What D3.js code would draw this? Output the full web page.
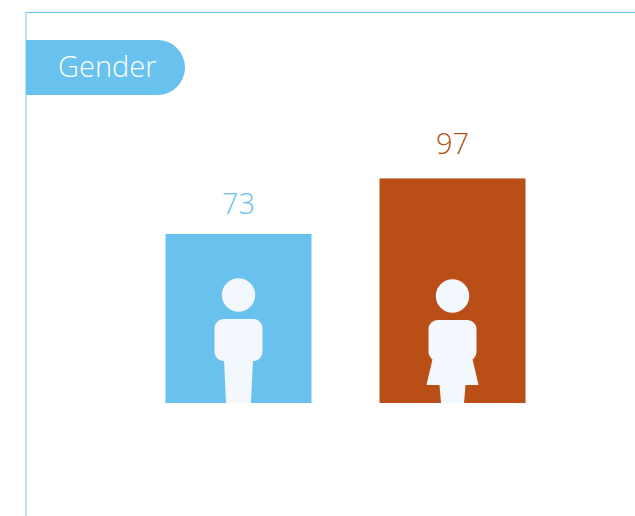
<!DOCTYPE html>
<html>
<head>
<meta charset="utf-8">
<style>
  html, body { margin: 0; padding: 0; background: #fff; overflow: hidden; }
  svg { display: block; }
  text { font-family: "Open Sans", Lato, sans-serif; font-weight: 300; }
</style>
<script src="https://cdn.jsdelivr.net/npm/d3@7"></script>
</head>
<body>
<svg id="chart" width="635" height="516"></svg>
<script>
const categories = ["Male", "Female"];
const counts = [73, 97];
const barColors = ["#69c1ee", "#b94e16"];
const panelTitle = "Gender";

const W = 635;
const H = 516;
const BLUE = "#69c1ee";
const ICON = "#f3f8fe";
const baseline = 403;

const svg = d3.select("#chart");

const x = d3.scaleBand()
  .domain(categories)
  .range([165.5, 525.5])
  .paddingInner(68 / 214);

const y = d3.scaleLinear()
  .domain([0, 100])
  .range([baseline, baseline - 231.5]);

// panel frame, only the top and left edges are in view
svg.append("line")
  .attr("x1", 25.5).attr("x2", W)
  .attr("y1", 12.5).attr("y2", 12.5)
  .attr("stroke", BLUE).attr("stroke-width", 1);
svg.append("line")
  .attr("x1", 26).attr("x2", 26)
  .attr("y1", 12).attr("y2", H)
  .attr("stroke", "#a6dbf5").attr("stroke-width", 1.5);

// title tab
const tab = svg.append("g");
tab.append("path")
  .attr("d", "M26,40 H157.5 A27.5,27.5 0 0 1 157.5,95 H26 Z")
  .attr("fill", BLUE);
tab.append("text")
  .attr("x", 58).attr("y", 77)
  .attr("font-size", 29)
  .attr("fill", "#fff")
  .text(panelTitle);

const bars = svg.append("g").selectAll("g")
  .data(categories)
  .join("g");

bars.append("rect")
  .attr("x", (d) => x(d))
  .attr("y", (d, i) => y(counts[i]))
  .attr("width", x.bandwidth())
  .attr("height", (d, i) => baseline - y(counts[i]))
  .attr("fill", (d, i) => barColors[i]);

// the two labels do not sit at the same distance above their bars
bars.append("text")
  .attr("x", (d) => x(d) + x.bandwidth() / 2)
  .attr("y", (d, i) => y(counts[i]) - (i === 0 ? 20 : 24.5))
  .attr("text-anchor", "middle")
  .attr("font-size", 29)
  .attr("fill", (d, i) => barColors[i])
  .text((d, i) => counts[i]);

// pictograms, drawn relative to the bar centre and baseline
const icons = bars.append("g")
  .attr("transform", (d) => `translate(${x(d) + x.bandwidth() / 2},${baseline})`)
  .attr("fill", ICON);

icons.append("circle")
  .attr("cy", (d, i) => (i === 0 ? -108 : -107))
  .attr("r", 16.7);

icons.append("rect")
  .attr("x", -24)
  .attr("y", (d, i) => (i === 0 ? -84 : -83))
  .attr("width", 48)
  .attr("height", (d, i) => (i === 0 ? 42 : 41))
  .attr("rx", 9);

icons.append("path")
  .attr("d", (d, i) => (i === 0
    ? "M-14.5,-44 L14.5,-44 L12.5,0 L-12.5,0 Z"
    : "M-19.5,-46 L19.5,-46 L26,-18 L13,-18 L11.5,0 L-11.5,0 L-13,-18 L-26,-18 Z"));
</script>
</body>
</html>
